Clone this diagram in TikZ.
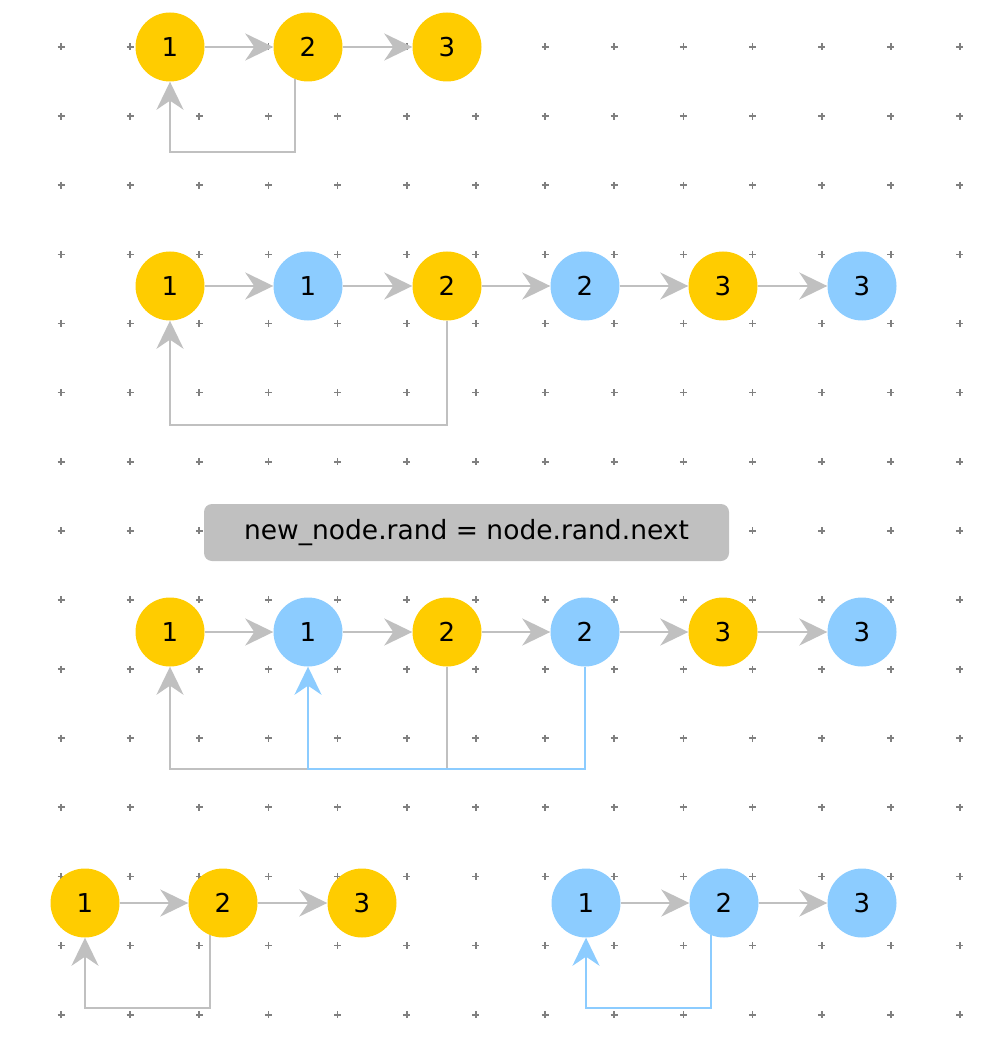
\documentclass[tikz,border=0pt]{standalone}
\usepackage{fontspec}
\setmainfont{DejaVu Sans}
\usetikzlibrary{arrows.meta,calc}
\definecolor{ylw}{RGB}{255,204,0}
\definecolor{blu}{RGB}{140,204,255}
\definecolor{arrgray}{RGB}{192,192,192}
\definecolor{dotgray}{RGB}{128,128,128}
\definecolor{boxgray}{RGB}{192,192,192}
\tikzset{
  yn/.style={circle,fill=ylw,inner sep=0pt,minimum size=69pt,font=\fontsize{26}{26}\selectfont},
  bn/.style={circle,fill=blu,inner sep=0pt,minimum size=69pt,font=\fontsize{26}{26}\selectfont},
  tip/.style={-{Stealth[length=28pt,width=27pt,inset=9pt]}},
  link/.style={draw=arrgray,line width=2.5pt,tip},
  loopg/.style={draw=arrgray,line width=2.5pt,tip},
  loopb/.style={draw=blu,line width=2.5pt,tip},
  dotmark/.style={draw=dotgray,line width=1.7pt},
  codebox/.style={rectangle,rounded corners=8pt,fill=boxgray,minimum width=525pt,minimum height=57pt,inner sep=0pt,font=\fontsize{26.5}{26.5}\selectfont}
}
\begin{document}
\begin{tikzpicture}[x=1pt,y=-1pt]
\useasboundingbox (0,0) rectangle (1000,1048);
% grid dots
\foreach \i in {0,...,13}{
  \foreach \j in {0,...,14}{
    \pgfmathsetmacro{\gx}{61+69.15*\i}
    \pgfmathsetmacro{\gy}{47+69.12*\j}
    \draw[dotmark] (\gx-3.5,\gy) -- (\gx+3.5,\gy) (\gx,\gy-3.5) -- (\gx,\gy+3.5);
  }
}
% row 1
\node[yn] (a1) at (170,47) {1};
\node[yn] (a2) at (308,47) {2};
\node[yn] (a3) at (447,47) {3};
\draw[link] (a1) -- (a2);
\draw[link] (a2) -- (a3);
\coordinate (la) at (170,152);
\draw[loopg] (a2.248) |- (la) -- (a1.south);
% row 2
\node[yn] (b1) at (170,286) {1};
\node[bn] (b2) at (308,286) {1};
\node[yn] (b3) at (447,286) {2};
\node[bn] (b4) at (585,286) {2};
\node[yn] (b5) at (723,286) {3};
\node[bn] (b6) at (862,286) {3};
\draw[link] (b1) -- (b2);
\draw[link] (b2) -- (b3);
\draw[link] (b3) -- (b4);
\draw[link] (b4) -- (b5);
\draw[link] (b5) -- (b6);
\coordinate (lb) at (170,425);
\draw[loopg] (b3.south) |- (lb) -- (b1.south);
% label
\node[codebox] (code) at (466.5,532.5) {new\_node.rand = node.rand.next};
% row 3
\node[yn] (c1) at (170,632) {1};
\node[bn] (c2) at (308,632) {1};
\node[yn] (c3) at (447,632) {2};
\node[bn] (c4) at (585,632) {2};
\node[yn] (c5) at (723,632) {3};
\node[bn] (c6) at (862,632) {3};
\draw[link] (c1) -- (c2);
\draw[link] (c2) -- (c3);
\draw[link] (c3) -- (c4);
\draw[link] (c4) -- (c5);
\draw[link] (c5) -- (c6);
\coordinate (lc) at (170,769);
\coordinate (lc2) at (308,769);
\draw[loopg] (c3.south) |- (lc) -- (c1.south);
\draw[loopb] (c4.south) |- (lc2) -- (c2.south);
% row 4 left
\node[yn] (d1) at (85,903) {1};
\node[yn] (d2) at (223,903) {2};
\node[yn] (d3) at (362,903) {3};
\draw[link] (d1) -- (d2);
\draw[link] (d2) -- (d3);
\coordinate (ld) at (85,1008);
\draw[loopg] (d2.248) |- (ld) -- (d1.south);
% row 4 right
\node[bn] (e1) at (586,903) {1};
\node[bn] (e2) at (724,903) {2};
\node[bn] (e3) at (862,903) {3};
\draw[link] (e1) -- (e2);
\draw[link] (e2) -- (e3);
\coordinate (le) at (586,1008);
\draw[loopb] (e2.248) |- (le) -- (e1.south);
\end{tikzpicture}
\end{document}
